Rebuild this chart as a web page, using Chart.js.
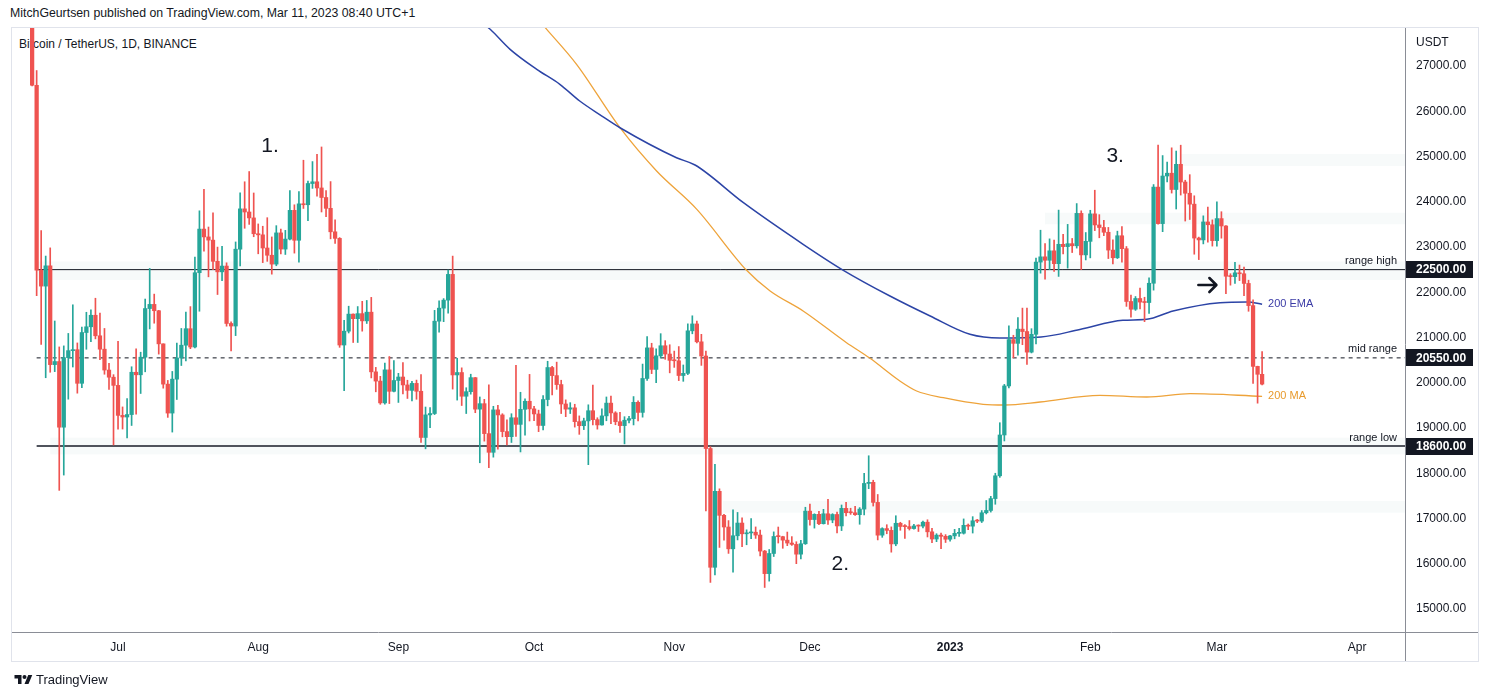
<!DOCTYPE html>
<html>
<head>
<meta charset="utf-8">
<script src="https://cdn.jsdelivr.net/npm/chart.js@4.4.0/dist/chart.umd.min.js"></script>
<style>
  body { margin: 0; background: #fff; font-family: "Liberation Sans", Arial, sans-serif; color: #131722; }
  #wrap { position: relative; width: 1488px; height: 698px; overflow: hidden; }
  .txt { position: absolute; white-space: nowrap; }
  #frame { position: absolute; left: 11px; top: 27px; width: 1466px; height: 633px; border: 1px solid #e0e3eb; }
  #chart { position: absolute; left: 0; top: 0; }
</style>
</head>
<body>
<div id="wrap">
  <div class="txt" style="left:10px;top:6px;font-size:12.3px;">MitchGeurtsen published on TradingView.com, Mar 11, 2023 08:40 UTC+1</div>
  <div id="frame"></div>
  <div class="txt" style="left:19px;top:37px;font-size:12px;">Bitcoin / TetherUS, 1D, BINANCE</div>
  <canvas id="chart" width="1488" height="698"></canvas>
  <div class="txt" style="left:1416px;top:35px;font-size:12px;">USDT</div>
  <div class="txt" style="left:14px;top:672px;font-size:13px;display:flex;align-items:center;gap:3px;">
    <svg width="19" height="13" viewBox="0 0 36 26"><path d="M14 22H7V11H0V4h14v18zM28 22h-8l7.5-18h8L28 22z" fill="#131722"/><circle cx="20" cy="8" r="4" fill="#131722"/></svg>
    <span>TradingView</span>
  </div>
</div>
<script>
// daily candles, day 0 = 2022-06-12 ... day 272 = 2023-03-11
const startDate = '2022-06-12';
const firstOpen = 28400;

const closes = [
  // Jun
  26575, 22488, 22136, 22584, 20401, 20469, 19018, 20554, 20710, 20731, 19988, 21110, 21237, 21492, 21038, 20742, 20281, 20123, 19942,
  // Jul
  19279, 19243, 19297, 20232, 20176, 20565, 21640, 21732, 21592, 20860, 19970, 19330, 20080, 20548, 20830, 21195, 20790, 22432, 23396, 23223, 23152, 22684, 22451, 22579, 21310, 21254, 22952, 23843, 23774, 23643, 23293,
  // Aug
  23269, 22978, 22818, 22622, 23312, 22954, 23175, 23810, 23149, 23954, 23934, 24403, 24441, 24305, 24094, 23855, 23336, 23191, 20834, 21140, 21517, 21416, 21528, 21368, 21560, 20241, 20037, 19555, 20285, 19811, 20050,
  // Sep
  20127, 19952, 19832, 19986, 19812, 18791, 19290, 19320, 21361, 21649, 21826, 22395, 20173, 20226, 19702, 19803, 20113, 19417, 19538, 18876, 18463, 19401, 19289, 18921, 18808, 19227, 19080, 19413, 19591, 19423,
  // Oct
  19311, 19056, 19629, 20337, 20158, 19960, 19531, 19417, 19446, 19141, 19051, 19157, 19382, 19185, 19068, 19268, 19550, 19334, 19139, 19053, 19172, 19207, 19567, 19345, 20095, 20771, 20295, 20595, 20818, 20635, 20495,
  // Nov
  20486, 20160, 20208, 21148, 21300, 20905, 20591, 18547, 15922, 17601, 17070, 16812, 16330, 16619, 16900, 16662, 16682, 16697, 16634, 16280, 15782, 16227, 16603, 16599, 16522, 16458, 16428, 16212, 16442, 17163,
  // Dec
  16977, 17092, 16885, 17105, 16967, 17089, 16836, 17224, 17128, 17127, 17085, 17208, 17775, 17800, 17356, 16632, 16777, 16738, 16439, 16895, 16824, 16821, 16778, 16836, 16832, 16919, 16706, 16547, 16633, 16607, 16542,
  // Jan
  16616, 16672, 16675, 16850, 16831, 16950, 16943, 17127, 17178, 17440, 17944, 18846, 19930, 20954, 20871, 21185, 21132, 20677, 21071, 22667, 22783, 22707, 22916, 22632, 23060, 23009, 23074, 23027, 23743, 22826, 23125,
  // Feb
  23732, 23488, 23431, 23326, 22932, 22762, 23249, 22963, 21796, 21625, 21862, 21783, 21773, 22199, 24324, 23517, 24569, 24631, 24271, 24827, 24436, 24188, 23947, 23198, 23157, 23554, 23492, 23141,
  // Mar
  23628, 23465, 22354, 22346, 22430, 22409, 22195, 21705, 20362, 20187, 19970
];

const highs = [
  28544, 26900, 23363, 22800, 22981, 21365, 20792, 20815, 21090, 21723, 20880, 21233, 21558, 21614, 21868, 21540, 21200, 20432, 20179,
  20918, 19466, 19650, 20354, 20750, 20675, 21850, 22527, 21959, 21600, 20860, 20052, 20250, 20877, 21200, 21561, 21683, 22780, 23800, 24276, 23442, 23756, 22998, 23014, 22651, 21347, 23112, 24199, 24442, 24668, 24194,
  23510, 23459, 23648, 23223, 23472, 23398, 23368, 24245, 23933, 24226, 24918, 24456, 24888, 25047, 25211, 24247, 24446, 23600, 23208, 21382, 21692, 21522, 21684, 21800, 21819, 21887, 20340, 20142, 20433, 20580, 20490,
  20208, 20445, 20056, 20029, 20059, 20179, 19464, 19454, 21600, 21811, 21860, 22488, 22799, 20541, 20330, 19890, 20189, 20117, 19686, 19634, 19956, 19480, 19500, 19316, 19180, 19316, 20385, 19790, 19645, 20185,
  19480, 19395, 19719, 20475, 20365, 20456, 20056, 19622, 19560, 19525, 19268, 19218, 19513, 19951, 19227, 19425, 19686, 19706, 19360, 19347, 19250, 19257, 19695, 19600, 20413, 21020, 20873, 20750, 21085, 20931, 20840,
  20700, 20800, 20393, 21302, 21480, 21365, 21070, 20700, 18587, 18199, 17656, 17095, 16954, 17190, 17134, 17015, 16750, 17000, 16814, 16745, 16295, 16315, 16705, 16812, 16608, 16701, 16600, 16487, 16520, 17249,
  17320, 17105, 17159, 17203, 17424, 17107, 17143, 17299, 17360, 17227, 17270, 17241, 18000, 18387, 17846, 17531, 16796, 16863, 16815, 17061, 16917, 16868, 16955, 16869, 16860, 16944, 16972, 16785, 16664, 16677, 16644,
  16630, 16760, 16785, 16991, 16879, 17041, 16981, 17176, 17398, 17490, 18000, 19117, 19964, 21258, 21050, 21439, 21650, 21650, 21195, 22755, 23371, 23078, 23180, 23153, 23816, 23282, 23500, 23189, 23960, 23800, 23320,
  23812, 24255, 23715, 23587, 23433, 23158, 23350, 23452, 23011, 21938, 21906, 22090, 21890, 22319, 24380, 25250, 25021, 24877, 25192, 25121, 25250, 24476, 24599, 24132, 23219, 23689, 23880, 23600,
  24000, 23780, 23476, 22410, 22659, 22602, 22557, 22267, 21834, 20367, 20690
];

const lows = [
  26560, 21925, 20846, 20111, 20232, 20246, 17622, 17960, 19637, 20348, 19770, 19892, 20740, 20906, 20970, 20510, 20188, 19854, 18626,
  18975, 18977, 18782, 19056, 19305, 19763, 20242, 21190, 21316, 20633, 19880, 19235, 18910, 19630, 20381, 20484, 20754, 20770, 21581, 22906, 22341, 22500, 21950, 22257, 21250, 20706, 21042, 22582, 23414, 23500, 23227,
  22850, 22655, 22683, 22400, 22586, 22850, 22835, 23154, 22865, 22664, 23852, 23583, 24296, 24125, 23774, 23671, 23180, 23080, 20783, 19824, 21100, 20890, 20890, 21140, 21310, 20107, 19800, 19524, 19527, 19540, 19797,
  19565, 19755, 19653, 19600, 19635, 18681, 18540, 19009, 19297, 21117, 21350, 21538, 19860, 19617, 19497, 19320, 19748, 19338, 18232, 18710, 18125, 18356, 18531, 18805, 18629, 18680, 18816, 18471, 18843, 19155,
  19160, 18920, 18959, 19490, 19730, 19854, 19320, 19250, 19320, 19020, 18860, 18965, 18190, 19070, 18975, 19063, 19160, 19097, 19072, 18900, 18650, 19111, 19068, 19157, 19240, 20050, 20202, 20000, 20546, 20518, 20219,
  20340, 20048, 20032, 20180, 21082, 20880, 20384, 17166, 15588, 15754, 16361, 16520, 16229, 15815, 16527, 16378, 16420, 16554, 16560, 16175, 15476, 15616, 16160, 16458, 16342, 16400, 16406, 16002, 16107, 16428,
  16855, 16788, 16865, 16878, 16867, 16906, 16679, 16733, 17058, 17091, 17071, 16873, 17080, 17660, 17275, 16527, 16584, 16663, 16256, 16398, 16740, 16560, 16745, 16766, 16713, 16791, 16592, 16465, 16488, 16333, 16470,
  16499, 16551, 16605, 16656, 16753, 16679, 16908, 16911, 17101, 17142, 17315, 17910, 18714, 19888, 20551, 20611, 20841, 20407, 20659, 20861, 22422, 22292, 22500, 22462, 22350, 22850, 22534, 22878, 22976, 22500, 22714,
  22760, 23363, 23204, 23253, 22745, 22628, 22745, 22665, 21688, 21451, 21599, 21630, 21351, 21532, 22047, 23505, 23339, 24437, 24192, 23840, 24148, 23574, 23608, 22841, 22722, 23069, 23106, 23020,
  23020, 23195, 21971, 22157, 22198, 22258, 21927, 21580, 19988, 19549, 19950
];

// moving averages (day index, price)
const emaDays   = [99.0, 101.3, 105.7, 111.6, 116.7, 121.1, 126.0, 130.0, 142.5, 146.6, 157.3, 170.5, 179.4, 189.7, 198.6, 207.4, 214.0, 223.1, 231.7, 241.2, 246.5, 252.3, 262.7, 268.7, 272.0];
const emaValues = [28001, 27811, 27369, 26927, 26596, 26227, 25895, 25636, 24973, 24812, 23979, 23060, 22485, 21917, 21475, 21071, 20989, 21011, 21177, 21380, 21402, 21586, 21769, 21785, 21734];
const maDays    = [112.3, 113.8, 120.4, 130.0, 138.1, 147.0, 158.0, 163.2, 170.5, 180.1, 185.3, 191.9, 195.6, 201.5, 210.3, 215.1, 222.9, 236.1, 246.5, 256.1, 272.0];
const maValues  = [27983, 27811, 27038, 25636, 24680, 23833, 22485, 22028, 21586, 20885, 20540, 20039, 19818, 19670, 19524, 19508, 19575, 19723, 19685, 19758, 19701];

const levels = [22500, 20550, 18600];
const levelNames = ['range high', 'mid range', 'range low'];
const levelStart = 1;

const zoneStarts = [1, 4, 152.8, 224, 253.8];
const zoneLows   = [22271, 18419, 17128, 23502, 24790];
const zoneHighs  = [22680, 18786, 17387, 23758, 25055];

const noteTexts  = ['1.', '2.', '3.'];
const noteDays   = [52.6, 178.7, 239.5];
const notePrices = [25230, 15994, 25011];
const arrowDay = 259.9, arrowPrice = 22160;

const priceTicks = [15000, 16000, 17000, 18000, 19000, 20000, 21000, 22000, 23000, 24000, 25000, 26000, 27000];
const monthDays   = [19, 50, 81, 111, 142, 172, 203, 234, 262, 293];
const monthLabels = ['Jul', 'Aug', 'Sep', 'Oct', 'Nov', 'Dec', '2023', 'Feb', 'Mar', 'Apr'];

const xMin = -4.45, xMax = 303.6;
const yMin = 14492, yMax = 27840;

const UP = '#26a69a', DOWN = '#ef5350';
const FONT = '"Liberation Sans", Arial, sans-serif';

const opens = closes.map((c, i) => i === 0 ? firstOpen : closes[i - 1]);
const colors = closes.map((c, i) => c >= opens[i] ? UP : DOWN);
const wickData = closes.map((c, i) => ({ x: i, y: [Math.min(lows[i], opens[i], c), Math.max(highs[i], opens[i], c)] }));
const bodyData = closes.map((c, i) => ({ x: i, y: [opens[i], c] }));

const levelSets = levels.map((lv, i) => ({
    type: 'line',
    data: [{ x: levelStart, y: lv }, { x: xMax, y: lv }],
    borderColor: i === 2 ? '#50535c' : '#131722',
    borderWidth: i === 2 ? 2 : 1,
    borderDash: i === 1 ? [4, 4] : [],
    pointRadius: 0,
    order: 4
}));

const overlay = {
    id: 'overlay',
    beforeDatasetsDraw(chart) {
        const { ctx, chartArea: a, scales: { x, y } } = chart;
        ctx.save();
        ctx.beginPath();
        ctx.rect(a.left, a.top, a.right - a.left, a.bottom - a.top);
        ctx.clip();
        ctx.fillStyle = 'rgba(236,242,242,0.4)';
        zoneStarts.forEach((d, i) => {
            const x0 = x.getPixelForValue(d);
            const y0 = y.getPixelForValue(zoneHighs[i]);
            const y1 = y.getPixelForValue(zoneLows[i]);
            ctx.fillRect(x0, y0, a.right - x0, y1 - y0);
        });
        ctx.restore();
    },
    afterDatasetsDraw(chart) {
        const { ctx, chartArea: a, scales: { x, y } } = chart;
        ctx.save();
        // numbered notes
        ctx.fillStyle = '#131722';
        ctx.textAlign = 'center';
        ctx.textBaseline = 'middle';
        ctx.font = '21px ' + FONT;
        noteTexts.forEach((t, i) => {
            ctx.fillText(t, x.getPixelForValue(noteDays[i]), y.getPixelForValue(notePrices[i]));
        });
        // arrow
        const ax = x.getPixelForValue(arrowDay), ay = y.getPixelForValue(arrowPrice);
        ctx.strokeStyle = '#131722';
        ctx.lineWidth = 2.6;
        ctx.lineCap = 'round';
        ctx.lineJoin = 'round';
        ctx.beginPath();
        ctx.moveTo(ax - 9, ay);
        ctx.lineTo(ax + 8, ay);
        ctx.moveTo(ax + 2, ay - 7);
        ctx.lineTo(ax + 9, ay);
        ctx.lineTo(ax + 2, ay + 7);
        ctx.stroke();
        // level names
        ctx.font = '11px ' + FONT;
        ctx.textAlign = 'right';
        ctx.textBaseline = 'bottom';
        levels.forEach((lv, i) => {
            ctx.fillText(levelNames[i], a.right - 8, y.getPixelForValue(lv) - 3);
        });
        // average labels
        ctx.textAlign = 'left';
        ctx.textBaseline = 'middle';
        ctx.fillStyle = '#3b3ba6';
        ctx.fillText('200 EMA', x.getPixelForValue(emaDays[emaDays.length - 1]) + 6, y.getPixelForValue(emaValues[emaValues.length - 1]));
        ctx.fillStyle = '#e89a2c';
        ctx.fillText('200 MA', x.getPixelForValue(maDays[maDays.length - 1]) + 6, y.getPixelForValue(maValues[maValues.length - 1]));
        ctx.restore();
    },
    afterDraw(chart) {
        const { ctx, chartArea: a, scales: { y } } = chart;
        ctx.save();
        ctx.strokeStyle = '#8a8d96';
        ctx.lineWidth = 1;
        ctx.beginPath();
        ctx.moveTo(a.right + 0.5, 28);
        ctx.lineTo(a.right + 0.5, 661);
        ctx.moveTo(12, a.bottom + 0.5);
        ctx.lineTo(1478, a.bottom + 0.5);
        ctx.stroke();
        // price tags on the axis
        ctx.font = 'bold 12px ' + FONT;
        ctx.textAlign = 'left';
        ctx.textBaseline = 'middle';
        levels.forEach(lv => {
            const py = y.getPixelForValue(lv);
            ctx.fillStyle = '#131722';
            ctx.fillRect(a.right + 1, Math.round(py - 8.5), 67, 17);
            ctx.fillStyle = '#fff';
            ctx.fillText(lv.toFixed(2), a.right + 11, py + 0.5);
        });
        ctx.restore();
    }
};

new Chart(document.getElementById('chart'), {
    type: 'bar',
    data: {
        datasets: [
            {
                data: bodyData,
                backgroundColor: colors,
                barThickness: 3.6,
                minBarLength: 1,
                grouped: false,
                order: 0
            },
            {
                data: wickData,
                backgroundColor: colors,
                barThickness: 1,
                grouped: false,
                order: 1
            },
            {
                type: 'line',
                data: emaDays.map((d, i) => ({ x: d, y: emaValues[i] })),
                borderColor: '#2c44a6',
                borderWidth: 1.5,
                pointRadius: 0,
                cubicInterpolationMode: 'monotone',
                order: 2
            },
            {
                type: 'line',
                data: maDays.map((d, i) => ({ x: d, y: maValues[i] })),
                borderColor: '#eea33a',
                borderWidth: 1.3,
                pointRadius: 0,
                cubicInterpolationMode: 'monotone',
                order: 3
            },
            ...levelSets
        ]
    },
    options: {
        responsive: false,
        animation: false,
        events: [],
        layout: { padding: { left: 12, top: 28, right: 10, bottom: 38 } },
        plugins: {
            legend: { display: false },
            tooltip: { enabled: false }
        },
        scales: {
            x: {
                type: 'linear',
                min: xMin,
                max: xMax,
                offset: false,
                grid: { display: false, drawTicks: false },
                border: { display: false },
                afterBuildTicks: scale => { scale.ticks = monthDays.map(v => ({ value: v })); },
                afterFit: scale => { scale.height = 28; },
                ticks: {
                    autoSkip: false,
                    maxRotation: 0,
                    padding: 8,
                    color: '#131722',
                    font: ctx => ({ family: FONT, size: 12, weight: monthLabels[ctx.index] === '2023' ? 'bold' : 'normal' }),
                    callback: (v, i) => monthLabels[i]
                }
            },
            y: {
                position: 'right',
                min: yMin,
                max: yMax,
                grid: { display: false, drawTicks: false },
                border: { display: false },
                afterBuildTicks: scale => { scale.ticks = priceTicks.map(v => ({ value: v })); },
                afterFit: scale => { scale.width = 73; },
                ticks: {
                    padding: 11,
                    color: '#131722',
                    font: { family: FONT, size: 12 },
                    callback: v => v.toFixed(2)
                }
            }
        }
    },
    plugins: [overlay]
});
</script>
</body>
</html>
